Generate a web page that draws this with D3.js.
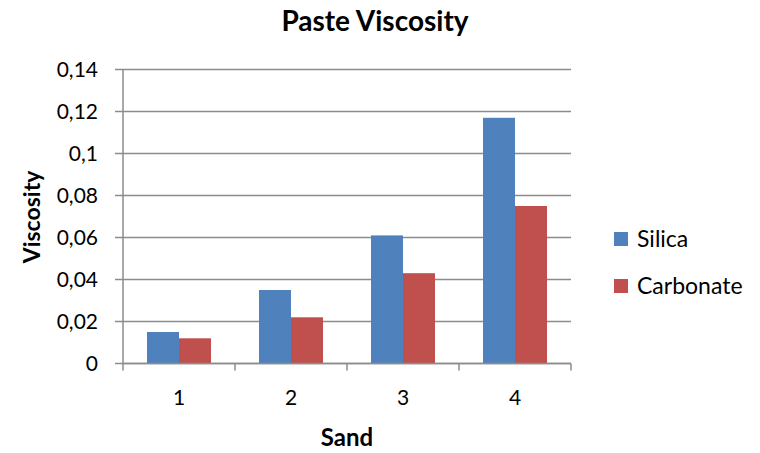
<!DOCTYPE html>
<html><head><meta charset="utf-8">
<script src="https://cdn.jsdelivr.net/npm/d3@7"></script>
<style>body{margin:0;background:#fff;} svg{display:block;} text{font-family:Lato,"Open Sans",sans-serif;fill:#000;}</style>
</head><body>
<svg id="c" width="760" height="453"></svg>
<script>
const categories = ["1","2","3","4"];
const seriesNames = ["Silica","Carbonate"];
const silica = [0.015,0.035,0.061,0.117];
const carbonate = [0.012,0.022,0.043,0.075];
const yTicks = [0,0.02,0.04,0.06,0.08,0.1,0.12,0.14];
const yTickLabels = ["0","0,02","0,04","0,06","0,08","0,1","0,12","0,14"];
const colors = ["#4F81BD","#C0504D"];

const svg = d3.select("#c");
const L=123,R=571,T=69.5,B=363.5;
const x = d3.scaleBand().domain(categories).range([L,R]).paddingInner(0.4286).paddingOuter(0.2143);
const x1 = d3.scaleBand().domain(seriesNames).range([0,x.bandwidth()]);
const y = d3.scaleLinear().domain([0,0.14]).range([B,T]);

// gridlines
svg.append("g").selectAll("line").data(yTicks).join("line")
  .attr("x1",L-8).attr("x2",R).attr("y1",d=>y(d)).attr("y2",d=>y(d))
  .attr("stroke","#8c8c8c").attr("stroke-width",1.5);

// bars
const data = categories.map((c,i)=>({c,vals:[silica[i],carbonate[i]]}));
const g = svg.append("g").selectAll("g").data(data).join("g").attr("transform",d=>`translate(${x(d.c)},0)`);
g.selectAll("rect").data(d=>d.vals.map((v,j)=>({v,s:seriesNames[j],j}))).join("rect")
  .attr("x",d=>x1(d.s)).attr("width",x1.bandwidth())
  .attr("y",d=>y(d.v)).attr("height",d=>B-y(d.v))
  .attr("fill",d=>colors[d.j]);

// y axis line
svg.append("line").attr("x1",L).attr("x2",L).attr("y1",T).attr("y2",B).attr("stroke","#8c8c8c").attr("stroke-width",1.5);
// x axis line
svg.append("line").attr("x1",L).attr("x2",R).attr("y1",B).attr("y2",B).attr("stroke","#8c8c8c").attr("stroke-width",1.5);
// x ticks at band boundaries
const bounds = d3.range(categories.length+1).map(i=>L+i*(R-L)/categories.length);
svg.append("g").selectAll("line").data(bounds).join("line")
  .attr("x1",d=>d).attr("x2",d=>d).attr("y1",B).attr("y2",B+7)
  .attr("stroke","#8c8c8c").attr("stroke-width",1.5);

// y labels
svg.append("g").selectAll("text").data(yTicks).join("text")
  .attr("x",98).attr("y",d=>y(d)).attr("dy","0.35em").attr("text-anchor","end")
  .attr("font-size",21).text((d,i)=>yTickLabels[i]);
// x labels
svg.append("g").selectAll("text").data(categories).join("text")
  .attr("x",d=>x(d)+x.bandwidth()/2).attr("y",405).attr("text-anchor","middle")
  .attr("font-size",21).text(d=>d);

// titles
svg.append("text").attr("x",375).attr("y",31).attr("text-anchor","middle").attr("font-size",28).attr("font-weight","bold").text("Paste Viscosity");
svg.append("text").attr("x",347).attr("y",446).attr("text-anchor","middle").attr("font-size",24).attr("font-weight","bold").text("Sand");
svg.append("text").attr("transform","translate(40,217) rotate(-90)").attr("text-anchor","middle").attr("font-size",23).attr("font-weight","bold").text("Viscosity");

// legend
const lg = svg.append("g").selectAll("g").data(seriesNames).join("g").attr("transform",(d,i)=>`translate(614,${232+i*47})`);
lg.append("rect").attr("width",14).attr("height",14).attr("fill",(d,i)=>colors[i]);
lg.append("text").attr("x",23).attr("y",7).attr("dy","0.35em").attr("font-size",23).text(d=>d);
</script>
</body></html>
